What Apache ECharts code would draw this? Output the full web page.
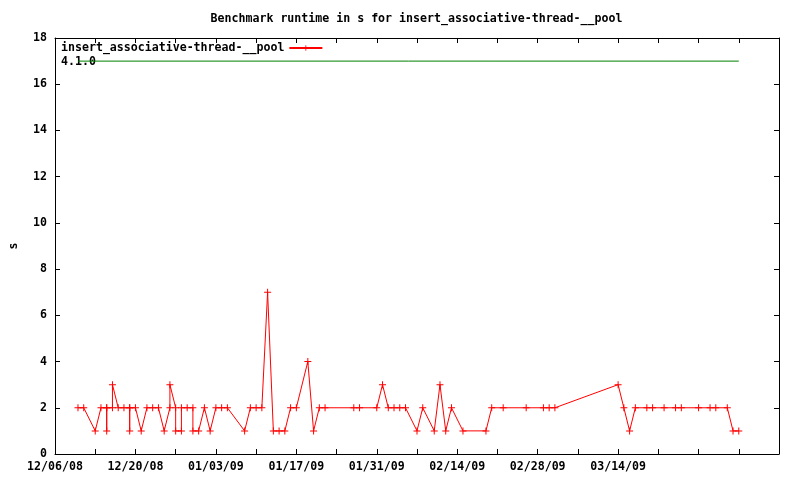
<!DOCTYPE html>
<html><head><meta charset="utf-8">
<script src="https://cdn.jsdelivr.net/npm/echarts@6/dist/echarts.min.js"></script>
<style>html,body{margin:0;padding:0;background:#fff}#c{width:800px;height:480px}</style>
</head><body><div id="c"></div>
<script>
// ---- data ----
const titleText = 'Benchmark runtime in s for insert_associative-thread-__pool';
const seriesName = 'insert_associative-thread-__pool';
const originDate = '2008-12-06';
const runDates = [
  '2008-12-10','2008-12-11','2008-12-13','2008-12-14',
  '2008-12-15','2008-12-15','2008-12-15',
  '2008-12-16','2008-12-16','2008-12-17','2008-12-18',
  '2008-12-19','2008-12-19','2008-12-19',
  '2008-12-20','2008-12-21','2008-12-22','2008-12-23','2008-12-24','2008-12-25',
  '2008-12-26','2008-12-26','2008-12-27','2008-12-27','2008-12-28','2008-12-28',
  '2008-12-29','2008-12-30','2008-12-30','2008-12-31',
  '2009-01-01','2009-01-02','2009-01-03','2009-01-04','2009-01-05',
  '2009-01-08','2009-01-09','2009-01-10','2009-01-11','2009-01-12','2009-01-13',
  '2009-01-14','2009-01-15','2009-01-16','2009-01-17','2009-01-19','2009-01-20',
  '2009-01-21','2009-01-22','2009-01-27','2009-01-28','2009-01-31',
  '2009-02-01','2009-02-02','2009-02-03','2009-02-04','2009-02-05','2009-02-07',
  '2009-02-08','2009-02-10','2009-02-11','2009-02-12','2009-02-13','2009-02-15',
  '2009-02-19','2009-02-20','2009-02-22','2009-02-26',
  '2009-03-01','2009-03-02','2009-03-03','2009-03-14','2009-03-15','2009-03-16',
  '2009-03-17','2009-03-19','2009-03-20','2009-03-22','2009-03-24','2009-03-25',
  '2009-03-28','2009-03-30','2009-03-31','2009-04-02','2009-04-03','2009-04-04'
];
const runtimes = [
  2,2,1,2,
  2,1,2,
  2,3,2,2,
  2,1,2,
  2,1,2,2,2,1,
  2,3,2,1,1,2,
  2,2,1,1,
  2,1,2,2,2,
  1,2,2,2,7,1,
  1,1,2,2,4,1,
  2,2,2,2,2,
  3,2,2,2,2,1,
  2,1,3,1,2,1,
  1,2,2,2,
  2,2,2,3,2,1,
  2,2,2,2,2,2,
  2,2,2,2,1,1
];
const versionLabel = '4.1.0';
const versionValue = 17;
const xTickLabels = ['12/06/08','12/20/08','01/03/09','01/17/09','01/31/09','02/14/09','02/28/09','03/14/09'];
const yMin = 0, yMax = 18, yStep = 2;
const xMaxDays = 126, xStepDays = 7, xLabelStepDays = 14;

// ---- build ----
function dayOf(s) {
  const p = s.split('-').map(Number), o = originDate.split('-').map(Number);
  return Math.round((Date.UTC(p[0], p[1]-1, p[2]) - Date.UTC(o[0], o[1]-1, o[2])) / 86400000);
}
const points = runDates.map((d, i) => [dayOf(d), runtimes[i]]);
const versionLine = [[dayOf(runDates[0]), versionValue], [dayOf(runDates[runDates.length-1]), versionValue]];

const FONT = 'DejaVu Sans Mono';
const txt = {fontFamily: FONT, fontWeight: 'bold', fontSize: 11.6, color: '#000'};
const plusPath = 'path://M0,3L7,3L7,4L0,4Z M3,0L4,0L4,7L3,7Z';
const axLine = () => ({show: true, onZero: false, lineStyle: {color: '#000', width: 1}});
const tick = () => ({show: true, inside: true, length: 5, lineStyle: {color: '#000', width: 1}});

const chart = echarts.init(document.getElementById('c'), null, {renderer: 'canvas'});
chart.setOption({
  animation: false,
  backgroundColor: '#fff',
  grid: {left: 55, top: 38, width: 724, height: 416, containLabel: false},
  xAxis: [{
    type: 'value', min: 0, max: xMaxDays, interval: xStepDays, position: 'bottom',
    axisLine: axLine(), axisTick: tick(), splitLine: {show: false},
    axisLabel: Object.assign({margin: 7, showMaxLabel: false, formatter: v => {
      if (v % xLabelStepDays !== 0) return '';
      const k = v / xLabelStepDays; return k < xTickLabels.length ? xTickLabels[k] : '';
    }}, txt)
  }, {
    type: 'value', min: 0, max: xMaxDays, interval: xStepDays, position: 'top',
    axisLine: axLine(), axisTick: tick(), splitLine: {show: false}, axisLabel: {show: false}
  }],
  yAxis: [{
    type: 'value', min: yMin, max: yMax, interval: yStep, position: 'left',
    axisLine: axLine(), axisTick: tick(), splitLine: {show: false},
    axisLabel: Object.assign({margin: 8}, txt)
  }, {
    type: 'value', min: yMin, max: yMax, interval: yStep, position: 'right',
    axisLine: axLine(), axisTick: tick(), splitLine: {show: false}, axisLabel: {show: false}
  }],
  legend: {
    data: [seriesName], left: 61, top: 42, align: 'right', padding: 0,
    itemWidth: 33, itemHeight: 7, textStyle: txt
  },
  series: [{
    name: seriesName, type: 'line', data: points, showAllSymbol: true,
    symbol: plusPath, symbolSize: 7,
    itemStyle: {color: '#ff0000', borderWidth: 0},
    lineStyle: {color: '#ff0000', width: 1}
  }, {
    name: versionLabel, type: 'line', data: versionLine, symbol: 'none',
    lineStyle: {color: '#008000', width: 1}, silent: true
  }],
  graphic: [
    {type: 'text', x: 416.5, y: 19, style: {text: titleText, align: 'center', verticalAlign: 'middle', font: 'bold 11.6px "DejaVu Sans Mono"', fill: '#000'}},
    {type: 'text', x: 14, y: 246, rotation: Math.PI/2, style: {text: 's', align: 'center', verticalAlign: 'middle', font: 'bold 11.6px "DejaVu Sans Mono"', fill: '#000'}},
    {type: 'text', x: 61, y: 61.5, style: {text: versionLabel, align: 'left', verticalAlign: 'middle', font: 'bold 11.6px "DejaVu Sans Mono"', fill: '#000'}}
  ]
});
</script></body></html>
